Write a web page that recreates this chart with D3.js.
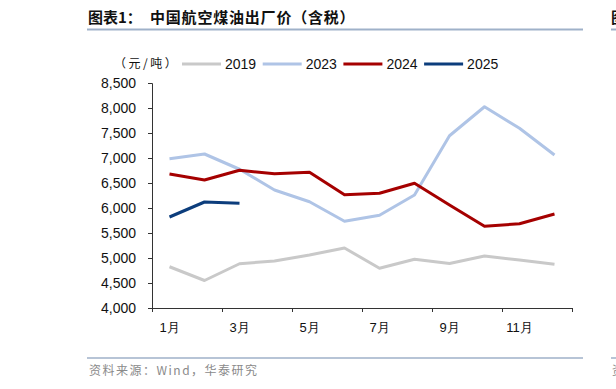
<!DOCTYPE html>
<html lang="zh">
<head>
  <meta charset="UTF-8">
  <title>中国航空煤油出厂价（含税）</title>
  <script src="https://cdn.jsdelivr.net/npm/d3@7"></script>
  <style>
    body { margin: 0; background: #fff; }
    svg { display: block; }
  </style>
</head>
<body>
  <svg width="616" height="389"></svg>
  <script>
    // data (元/吨)
    var months = [1, 2, 3, 4, 5, 6, 7, 8, 9, 10, 11, 12];
    var monthLabels = ['1月', '3月', '5月', '7月', '9月', '11月'];
    var yTicks = [4000, 4500, 5000, 5500, 6000, 6500, 7000, 7500, 8000, 8500];
    var seriesNames = ['2019', '2023', '2024', '2025'];
    var seriesColors = ['#c9c9c9', '#afc4e6', '#a50000', '#0c3d7c'];
    var v2019 = [4825, 4550, 4885, 4940, 5060, 5200, 4795, 4975, 4890, 5040, 4960, 4875];
    var v2023 = [6985, 7080, 6775, 6360, 6125, 5735, 5855, 6260, 7445, 8025, 7595, 7060];
    var v2024 = [6680, 6560, 6755, 6685, 6715, 6265, 6295, 6495, 6060, 5635, 5685, 5880];
    var v2025 = [5820, 6120, 6095];

    var seriesValues = [v2019, v2023, v2024, v2025];
    var font = 'Liberation Sans, Arial, sans-serif';
    var cjk = '"Noto Sans CJK SC", sans-serif';

    var margin = { top: 83, right: 44, bottom: 81, left: 152 };
    var svg = d3.select('svg');
    var width = +svg.attr('width') - margin.left - margin.right;
    var height = +svg.attr('height') - margin.top - margin.bottom;

    // header + footer rules
    svg.append('text')
      .attr('x', 88).attr('y', 23)
      .attr('font-family', cjk).attr('font-weight', 'bold')
      .attr('font-size', 15).attr('fill', '#111')
      .text('图表1：');
    svg.append('text')
      .attr('x', 150).attr('y', 23)
      .attr('font-family', cjk).attr('font-weight', 'bold')
      .attr('font-size', 15).attr('letter-spacing', 0.8).attr('fill', '#111')
      .text('中国航空煤油出厂价（含税）');
    svg.append('text')
      .attr('x', 611).attr('y', 23)
      .attr('font-family', cjk).attr('font-weight', 'bold')
      .attr('font-size', 15).attr('fill', '#111')
      .text('图');
    svg.append('line')
      .attr('x1', 87).attr('x2', 583).attr('y1', 29.5).attr('y2', 29.5)
      .attr('stroke', '#9fb1c9').attr('stroke-width', 2);
    svg.append('line')
      .attr('x1', 611).attr('x2', 616).attr('y1', 29.5).attr('y2', 29.5)
      .attr('stroke', '#9fb1c9').attr('stroke-width', 2);
    svg.append('line')
      .attr('x1', 87).attr('x2', 583).attr('y1', 358).attr('y2', 358)
      .attr('stroke', '#9fb1c9').attr('stroke-width', 1.5);
    svg.append('line')
      .attr('x1', 611).attr('x2', 616).attr('y1', 358).attr('y2', 358)
      .attr('stroke', '#9fb1c9').attr('stroke-width', 1.5);
    svg.append('text')
      .attr('x', 89).attr('y', 375)
      .attr('font-family', cjk).attr('font-size', 12).attr('letter-spacing', 1.5)
      .attr('fill', '#8a8a8a')
      .text('资料来源：Wind，华泰研究');
    svg.append('text')
      .attr('x', 612).attr('y', 375)
      .attr('font-family', cjk).attr('font-size', 12).attr('fill', '#8a8a8a')
      .text('资');

    var chart = svg.append('g')
      .attr('transform', 'translate(' + margin.left + ',' + margin.top + ')');

    var x = d3.scaleBand().domain(months).range([0, width]);
    var xEdge = d3.scaleLinear().domain([0, 12]).range([0, width]);
    var y = d3.scaleLinear().domain([4000, 8500]).range([height, 0]);

    // y axis
    var yAxis = chart.append('g')
      .call(d3.axisLeft(y).tickValues(yTicks).tickSize(4).tickPadding(12)
        .tickFormat(d3.format(',')));
    yAxis.selectAll('text').attr('font-family', font).attr('font-size', 14).attr('fill', '#111');
    yAxis.select('.domain').attr('stroke', '#333');
    yAxis.selectAll('line').attr('stroke', '#333');

    // x axis: ticks every two months at band edges, labels at odd months
    var xAxis = chart.append('g')
      .attr('transform', 'translate(0,' + height + ')')
      .call(d3.axisBottom(xEdge).tickValues([0, 2, 4, 6, 8, 10, 12]).tickSize(4).tickFormat(''));
    xAxis.select('.domain').attr('stroke', '#333');
    xAxis.selectAll('line').attr('stroke', '#333');

    chart.append('g').selectAll('text')
      .data(monthLabels)
      .join('text')
      .attr('x', function(d, i) { return x(months[i * 2]) + x.bandwidth() / 2; })
      .attr('y', height + 24)
      .attr('text-anchor', 'middle')
      .attr('font-family', font).attr('font-size', 13).attr('fill', '#111')
      .text(function(d) { return d; });

    // lines
    var line = d3.line()
      .x(function(d, i) { return x(months[i]) + x.bandwidth() / 2; })
      .y(function(d) { return y(d); });

    chart.selectAll('path.series')
      .data(seriesValues)
      .join('path')
      .attr('class', 'series')
      .attr('fill', 'none')
      .attr('stroke', function(d, i) { return seriesColors[i]; })
      .attr('stroke-width', 3)
      .attr('stroke-linejoin', 'round')
      .attr('d', line);

    // unit label + legend
    svg.append('text')
      .attr('x', 114).attr('y', 68)
      .attr('font-family', cjk).attr('font-size', 12).attr('letter-spacing', 2.5)
      .attr('fill', '#111')
      .text('（元/吨）');

    var legend = svg.append('g').attr('transform', 'translate(182,64)');
    var item = legend.selectAll('g')
      .data(seriesNames)
      .join('g')
      .attr('transform', function(d, i) { return 'translate(' + (i * 80.7) + ',0)'; });
    item.append('line')
      .attr('x1', 0).attr('x2', 39)
      .attr('stroke', function(d, i) { return seriesColors[i]; })
      .attr('stroke-width', 3);
    item.append('text')
      .attr('x', 43).attr('y', 5)
      .attr('font-family', font).attr('font-size', 14).attr('fill', '#111')
      .text(function(d) { return d; });
  </script>
</body>
</html>
